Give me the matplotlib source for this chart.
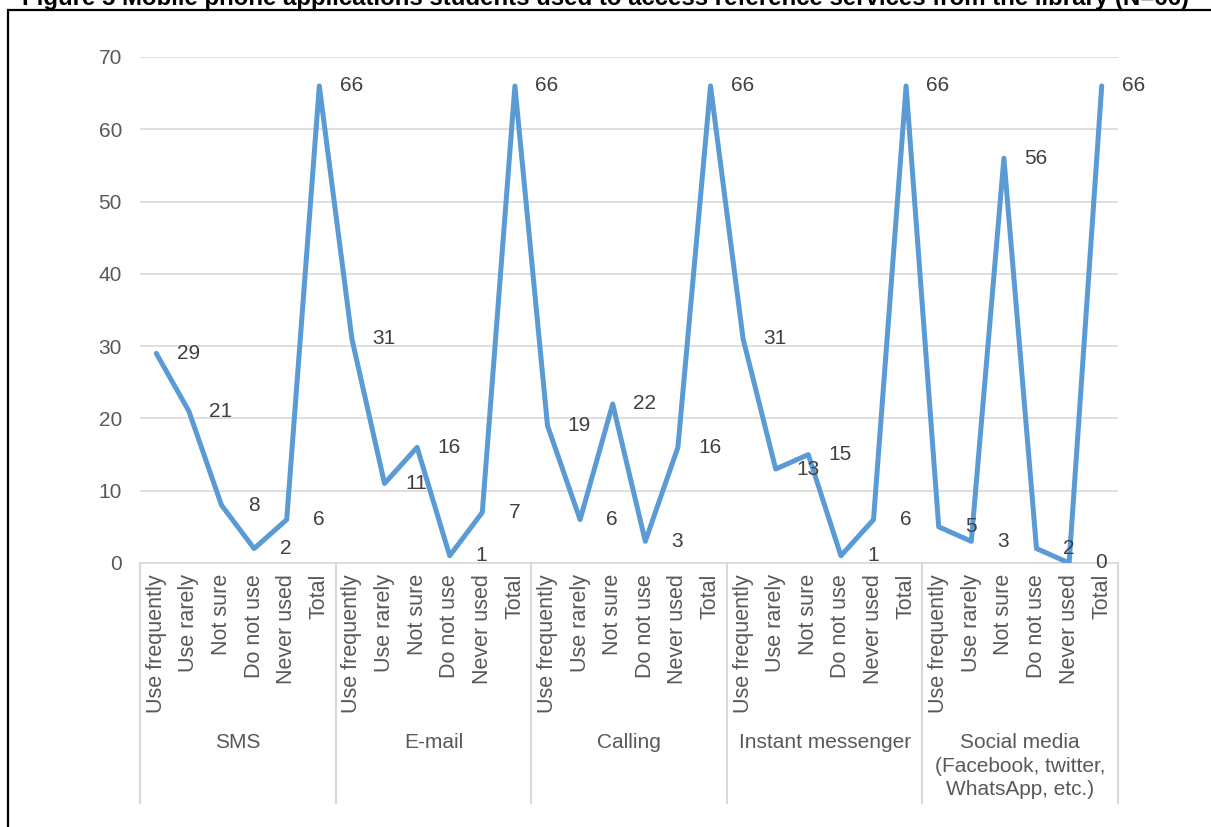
from matplotlib import pyplot as plt
from matplotlib.patches import Rectangle
import numpy as np

# Data
groups = ['SMS', 'E-mail', 'Calling', 'Instant messenger',
          'Social media\n(Facebook, twitter,\nWhatsApp, etc.)']
answers = ['Use frequently', 'Use rarely', 'Not sure', 'Do not use', 'Never used', 'Total']
sms = [29, 21, 8, 2, 6, 66]
email = [31, 11, 16, 1, 7, 66]
calling = [19, 6, 22, 3, 16, 66]
messenger = [31, 13, 15, 1, 6, 66]
social = [5, 3, 56, 2, 0, 66]

values = sms + email + calling + messenger + social
labels = answers * len(groups)
x = np.arange(len(values))

plt.rcParams['font.family'] = ['Liberation Sans', 'DejaVu Sans']
grey = '#595959'

W, H = 1211, 827
fig = plt.figure(figsize=(W / 100, H / 100), dpi=100)
ax = fig.add_axes([140 / W, 264 / H, 978 / W, 506 / H])

ax.plot(x, values, color='#5B9BD5', lw=3.6, solid_joinstyle='round', solid_capstyle='round', zorder=3)
for xi, v in zip(x, values):
    ax.annotate(str(v), (xi, v), xytext=(23, 0), textcoords='offset points',
                ha='center', va='center', fontsize=15, color='#404040', zorder=4)

ax.set_xlim(-0.5, len(values) - 0.5)
ax.set_ylim(0, 70)
ax.set_yticks(range(0, 71, 10))
ax.yaxis.grid(True, color='#D9D9D9', lw=1.2)
ax.set_axisbelow(True)
for s in ['top', 'right', 'left']:
    ax.spines[s].set_visible(False)
ax.spines['bottom'].set_color('#D9D9D9')
ax.spines['bottom'].set_linewidth(1.2)
ax.tick_params(axis='y', length=0, labelsize=15, labelcolor=grey, pad=13)
ax.set_xticks(x)
ax.set_xticklabels(labels, rotation=90, va='top', ha='center')
ax.tick_params(axis='x', length=0, labelsize=15.5, labelcolor=grey, pad=8)

# group separators and group names
trans = ax.get_xaxis_transform()
for i in range(len(groups) + 1):
    ax.plot([i * 6 - 0.5] * 2, [0, -240 / 506], color='#D9D9D9', lw=1.5,
            transform=trans, clip_on=False)
for i, g in enumerate(groups):
    ax.text(i * 6 + 2.5, -170 / 506, g, transform=trans, ha='center', va='top',
            fontsize=15, color=grey, linespacing=1.3)

# outer frame and clipped title
fig.patches.append(Rectangle((8 / W, -0.1), 1.2, (H - 10) / H + 0.1,
                             transform=fig.transFigure, fill=False, ec='black', lw=1.6))
fig.text(606 / W, (H - 5) / H,
         'Figure 5 Mobile phone applications students used to access reference services from the library (N=66)',
         ha='center', va='baseline', fontsize=17.3, fontweight='bold')

fig.savefig('out.png', dpi=100)
